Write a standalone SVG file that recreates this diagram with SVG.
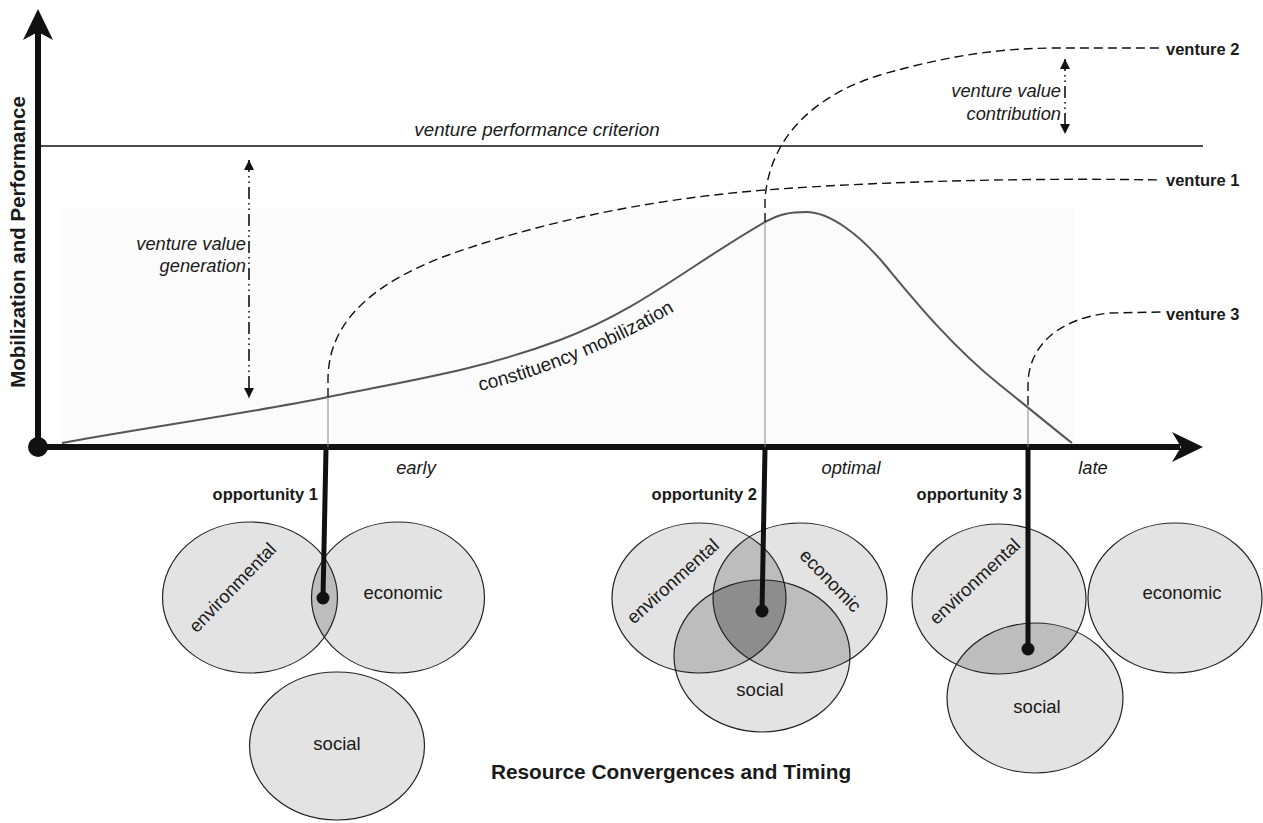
<svg xmlns="http://www.w3.org/2000/svg" width="1263" height="823" viewBox="0 0 1263 823">
<style>
text{font-family:"Liberation Sans",Arial,Helvetica,sans-serif;fill:#1a1a1a}
.it{font-style:italic;font-size:18.3px}
.b{font-weight:bold;font-size:16.5px}
.lbl{font-size:18.5px}
.venture{fill:none;stroke:#111;stroke-width:1.4;stroke-dasharray:9 5}
.guide{fill:none;stroke:#888;stroke-width:1}
.ell{fill:#e3e3e3;stroke:none}
.out{fill:none;stroke:#222;stroke-width:1.2}
.dbl{fill:#bdbdbd}
.tri{fill:#8d8d8d}
.opp{stroke:#111;stroke-width:5;fill:none}
.val{stroke:#111;stroke-width:1.6;fill:none;stroke-dasharray:12 4 1.5 4 1.5 4}
</style>
<defs>
<marker id="ah" viewBox="0 0 10 10" refX="10" refY="5" markerWidth="10" markerHeight="10" markerUnits="userSpaceOnUse" orient="auto-start-reverse">
<path d="M0,0 L10,5 L0,10 z" fill="#111"/>
</marker>
<clipPath id="cE1"><ellipse cx="250" cy="597.5" rx="87.5" ry="75.5"/></clipPath>
<clipPath id="cE2"><ellipse cx="699" cy="598" rx="87" ry="75"/></clipPath>
<clipPath id="cC2"><ellipse cx="800" cy="598" rx="87" ry="75"/></clipPath>
<clipPath id="cE3"><ellipse cx="999" cy="599" rx="87" ry="75"/></clipPath>
<path id="cmPath" d="M480,391 Q585,366 686,304"/>
</defs>
<rect width="1263" height="823" fill="#fff"/>
<rect x="60" y="208" width="1015" height="237" fill="#fbfbfb"/>

<g id="axes">
<line x1="38" y1="447" x2="38" y2="30" stroke="#111" stroke-width="6"/>
<polygon points="38,9 53,40 38,32 23,40" fill="#111"/>
<line x1="38" y1="447" x2="1180" y2="447" stroke="#111" stroke-width="6"/>
<polygon points="1203,447 1172,432 1181,447 1172,462" fill="#111"/>
<circle cx="38" cy="447" r="10" fill="#111"/>
<text class="b" style="font-size:20.5px" transform="translate(25,242) rotate(-90)" text-anchor="middle">Mobilization and Performance</text>
<text class="it" x="416" y="474" text-anchor="middle">early</text>
<text class="it" x="851" y="474" text-anchor="middle">optimal</text>
<text class="it" x="1093" y="474" text-anchor="middle">late</text>
</g>

<g id="criterion">
<line x1="40" y1="146" x2="1203" y2="146" stroke="#111" stroke-width="1.5"/>
<text class="it" style="font-size:18.8px" x="537" y="136" text-anchor="middle">venture performance criterion</text>
</g>

<g id="constituency-mobilization">
<path d="M62,443 C150,427 250,413 328,397 S480,370 560,340 S690,265 765,222 C780,214 790,212 806,212 C830,212 860,235 885,265 S950,345 1000,385 S1055,430 1072,443" fill="none" stroke="#555" stroke-width="2"/>
<text class="lbl" style="font-size:19px"><textPath href="#cmPath">constituency mobilization</textPath></text>
</g>

<g id="venture-1">
<path class="venture" d="M328,397 L328,380 C328,330 360,290 440,258 C530,225 640,200 765,190 C900,180 1050,178 1162,180"/>
<text class="b" x="1166" y="186">venture 1</text>
</g>
<g id="venture-2">
<path class="venture" d="M765,222 L765,200 C768,150 800,100 880,75 C950,55 1000,48 1060,48 L1162,48"/>
<text class="b" x="1166" y="55">venture 2</text>
</g>
<g id="venture-3">
<path class="venture" d="M1028,405 L1028,385 C1028,345 1060,318 1110,313 L1162,312"/>
<text class="b" x="1166" y="320">venture 3</text>
</g>

<g id="value-generation">
<text class="it" x="246" y="250" text-anchor="end">venture value</text>
<text class="it" x="246" y="272" text-anchor="end">generation</text>
</g>
<g id="value-contribution">
<text class="it" x="1061" y="97" text-anchor="end">venture value</text>
<text class="it" x="1061" y="120" text-anchor="end">contribution</text>
</g>

<g id="opportunity-1">
<ellipse class="ell" cx="250" cy="597.5" rx="87.5" ry="75.5"/>
<ellipse class="ell" cx="398" cy="597.5" rx="86.5" ry="75.5"/>
<ellipse class="ell" cx="337" cy="746" rx="87.5" ry="74"/>
<ellipse class="dbl" cx="398" cy="597.5" rx="86.5" ry="75.5" clip-path="url(#cE1)"/>
<ellipse class="out" cx="250" cy="597.5" rx="87.5" ry="75.5"/>
<ellipse class="out" cx="398" cy="597.5" rx="86.5" ry="75.5"/>
<ellipse class="out" cx="337" cy="746" rx="87.5" ry="74"/>
<text class="lbl" text-anchor="middle" transform="translate(237,592) rotate(-46)">environmental</text>
<text class="lbl" x="403" y="599" text-anchor="middle">economic</text>
<text class="lbl" x="337" y="750" text-anchor="middle">social</text>
<text class="b" x="318" y="500" text-anchor="end">opportunity 1</text>
</g>

<g id="opportunity-2">
<ellipse class="ell" cx="699" cy="598" rx="87" ry="75"/>
<ellipse class="ell" cx="800" cy="598" rx="87" ry="75"/>
<ellipse class="ell" cx="762" cy="656" rx="88" ry="76"/>
<ellipse class="dbl" cx="800" cy="598" rx="87" ry="75" clip-path="url(#cE2)"/>
<ellipse class="dbl" cx="762" cy="656" rx="88" ry="76" clip-path="url(#cE2)"/>
<ellipse class="dbl" cx="762" cy="656" rx="88" ry="76" clip-path="url(#cC2)"/>
<g clip-path="url(#cE2)"><g clip-path="url(#cC2)"><ellipse class="tri" cx="762" cy="656" rx="88" ry="76"/></g></g>
<ellipse class="out" cx="699" cy="598" rx="87" ry="75"/>
<ellipse class="out" cx="800" cy="598" rx="87" ry="75"/>
<ellipse class="out" cx="762" cy="656" rx="88" ry="76"/>
<text class="lbl" text-anchor="middle" transform="translate(677,586) rotate(-42)">environmental</text>
<text class="lbl" text-anchor="middle" transform="translate(826,585) rotate(46)">economic</text>
<text class="lbl" x="760" y="696" text-anchor="middle">social</text>
<text class="b" x="757" y="500" text-anchor="end">opportunity 2</text>
</g>

<g id="opportunity-3">
<ellipse class="ell" cx="999" cy="599" rx="87" ry="75"/>
<ellipse class="ell" cx="1175" cy="598" rx="87" ry="75"/>
<ellipse class="ell" cx="1035" cy="698" rx="88" ry="75"/>
<ellipse class="dbl" cx="1035" cy="698" rx="88" ry="75" clip-path="url(#cE3)"/>
<ellipse class="out" cx="999" cy="599" rx="87" ry="75"/>
<ellipse class="out" cx="1175" cy="598" rx="87" ry="75"/>
<ellipse class="out" cx="1035" cy="698" rx="88" ry="75"/>
<text class="lbl" text-anchor="middle" transform="translate(979,586) rotate(-43)">environmental</text>
<text class="lbl" x="1182" y="599" text-anchor="middle">economic</text>
<text class="lbl" x="1037" y="713" text-anchor="middle">social</text>
<text class="b" x="1022" y="500" text-anchor="end">opportunity 3</text>
</g>

<g id="title">
<text class="b" style="font-size:20.8px" x="671" y="779" text-anchor="middle">Resource Convergences and Timing</text>
</g>

<g id="connectors">
<line class="guide" x1="328" y1="397" x2="328" y2="447"/>
<line class="guide" x1="765" y1="222" x2="765" y2="447"/>
<line class="guide" x1="1028" y1="405" x2="1028" y2="447"/>
<line class="val" x1="249" y1="160" x2="249" y2="398" marker-start="url(#ah)" marker-end="url(#ah)"/>
<line class="val" x1="1065" y1="59" x2="1065" y2="134" marker-start="url(#ah)" marker-end="url(#ah)"/>
<line class="opp" x1="326" y1="449" x2="323" y2="598"/>
<circle cx="323" cy="598" r="6.5" fill="#111"/>
<line class="opp" x1="765" y1="449" x2="762" y2="611"/>
<circle cx="762" cy="611" r="6.5" fill="#111"/>
<line class="opp" x1="1028" y1="449" x2="1028" y2="649"/>
<circle cx="1028" cy="649" r="6.5" fill="#111"/>
</g>
</svg>
